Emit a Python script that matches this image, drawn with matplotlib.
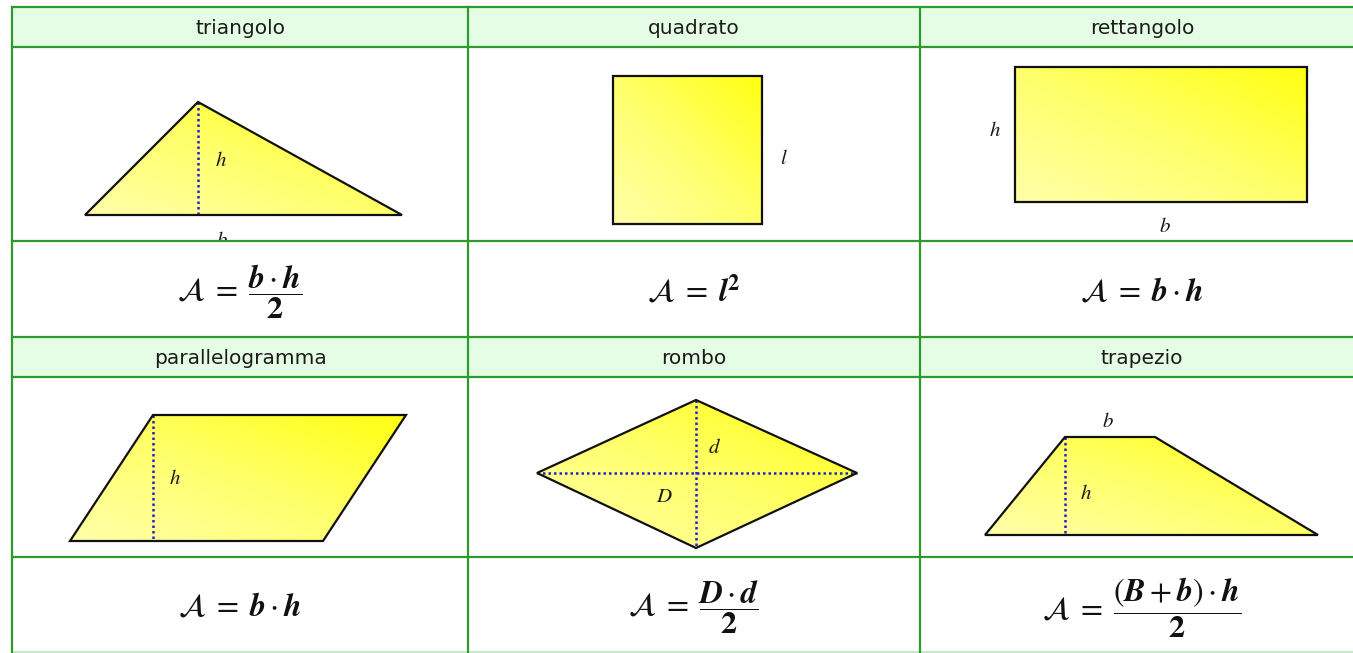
import numpy as np
import matplotlib.pyplot as plt
from matplotlib.patches import Polygon, Rectangle
from matplotlib.colors import LinearSegmentedColormap

plt.rcParams['mathtext.fontset'] = 'stix'

# table layout (pixel units of the picture)
col_edges = [12, 468, 920, 1364]
row_edges = [7, 47, 241, 337, 377, 557, 652]

names = ['triangolo', 'quadrato', 'rettangolo',
         'parallelogramma', 'rombo', 'trapezio']

formulas = [
    r'$\mathcal{A}\;=\;\dfrac{\mathbfit{b} \cdot \mathbfit{h}}{\mathbf{2}}$',
    r'$\mathcal{A}\;=\;\mathbfit{l}^{\mathbf{2}}$',
    r'$\mathcal{A}\;=\;\mathbfit{b} \cdot \mathbfit{h}$',
    r'$\mathcal{A}\;=\;\mathbfit{b} \cdot \mathbfit{h}$',
    r'$\mathcal{A}\;=\;\dfrac{\mathbfit{D} \cdot \mathbfit{d}}{\mathbf{2}}$',
    r'$\mathcal{A}\;=\;\dfrac{(\mathbfit{B} + \mathbfit{b}) \cdot \mathbfit{h}}{\mathbf{2}}$',
]

# shape outlines
triangle = [(85, 215), (198, 102), (402, 215)]
square = [(613, 76), (762, 76), (762, 224), (613, 224)]
rectangle = [(1015, 67), (1307, 67), (1307, 202), (1015, 202)]
parallelogram = [(70, 541), (153, 415), (406, 415), (323, 541)]
rhombus = [(537, 473), (696, 400), (857, 473), (696, 548)]
trapezoid = [(985, 535), (1065, 437), (1155, 437), (1318, 535)]
shapes = [triangle, square, rectangle, parallelogram, rhombus, trapezoid]

# dotted heights / diagonals
dotted = [
    [(198, 102), (198, 215)],
    [(153, 415), (153, 541)],
    [(537, 473), (857, 473)],
    [(696, 400), (696, 548)],
    [(1065, 437), (1065, 535)],
]

# letter labels
labels = [
    ('h', 221, 160), ('b', 222, 240), ('l', 784, 158),
    ('h', 995, 130), ('b', 1165, 226), ('h', 175, 478),
    ('d', 715, 447), ('D', 664, 496), ('b', 1108, 421), ('h', 1086, 493),
]

grid_color = '#2e9a2e'
head_color = '#e5fde5'
yellow = LinearSegmentedColormap.from_list('yel', ['#ffffaa', '#ffff6a', '#ffff10'])

fig = plt.figure(figsize=(13.53, 6.53), dpi=100)
ax = fig.add_axes([0, 0, 1, 1])
ax.set_xlim(0, 1353)
ax.set_ylim(653, 0)
ax.axis('off')

for txt, x, y in labels:
    ax.text(x, y, '$' + txt + '$', fontsize=15, color='#1a1a1a',
            ha='center', va='center', zorder=4.5)

for r in range(6):
    y0, y1 = row_edges[r], row_edges[r + 1]
    block, kind = divmod(r, 3)
    for c in range(3):
        x0, x1 = col_edges[c], col_edges[c + 1]
        idx = block * 3 + c
        if kind == 0:
            ax.add_patch(Rectangle((x0, y0), x1 - x0, y1 - y0,
                                   facecolor=head_color, edgecolor='none', zorder=1))
            ax.text((x0 + x1) / 2, (y0 + y1) / 2 + 1, names[idx], fontsize=14.5,
                    ha='center', va='center', color='#1a1a1a', zorder=6)
        elif kind == 2:
            # white formula cell also hides label overflow from the row above
            ax.add_patch(Rectangle((x0, y0), x1 - x0, y1 - y0,
                                   facecolor='white', edgecolor='none', zorder=4.6))
            ax.text((x0 + x1) / 2, (y0 + y1) / 2 + 3, formulas[idx], fontsize=23,
                    ha='center', va='center', color='#111111', zorder=6)

# grid lines
for y in row_edges[:-1]:
    ax.plot([col_edges[0], col_edges[-1]], [y, y], color=grid_color, lw=1.6, zorder=5)
ax.plot([col_edges[0], col_edges[-1]], [row_edges[-1]] * 2, color='#bfe6bf', lw=1.2, zorder=5)
for x in col_edges[:-1]:
    ax.plot([x, x], [row_edges[0], row_edges[-1]], color=grid_color, lw=1.6, zorder=5)

# shapes with gradient fill (pale bottom-left to bright top-right)
for pts in shapes:
    pts = np.array(pts, dtype=float)
    x0, y0 = pts.min(axis=0)
    x1, y1 = pts.max(axis=0)
    X, Y = np.meshgrid(np.linspace(x0, x1, 200), np.linspace(y0, y1, 200))
    t = ((X - x0) / (x1 - x0) + (y1 - Y) / (y1 - y0)) / 2
    poly = Polygon(pts, closed=True, facecolor='none', edgecolor='#111111',
                   lw=1.6, joinstyle='miter', zorder=4)
    ax.add_patch(poly)
    im = ax.imshow(t, extent=[x0, x1, y1, y0], origin='upper', cmap=yellow,
                   vmin=0, vmax=1, zorder=2.5, aspect='auto')
    im.set_clip_path(poly)

for (xa, ya), (xb, yb) in dotted:
    ax.plot([xa, xb], [ya, yb], color='#2222cc', lw=1.8, ls=(0, (1, 1.2)), zorder=3.5)

plt.savefig('out.png', dpi=100)
